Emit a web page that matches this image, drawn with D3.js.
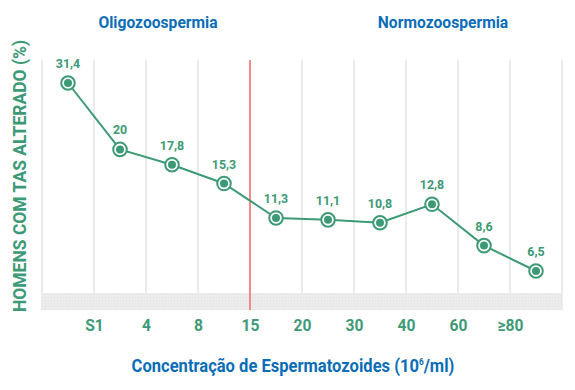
<!DOCTYPE html>
<html>
<head>
<meta charset="utf-8">
<script src="https://cdn.jsdelivr.net/npm/d3@7"></script>
<style>
  html, body { margin: 0; padding: 0; background: #ffffff; }
  svg { display: block; }
  text { font-family: "Roboto", "Liberation Sans", sans-serif; font-weight: bold; }
</style>
</head>
<body>
<svg id="chart" width="575" height="390"></svg>
<script>
// ---- data ----
const categories = ["<1", "1-4", "4-8", "8-15", "15-20", "20-30", "30-40", "40-60", "60-80", ">=80"];
const values = [31.4, 20, 17.8, 15.3, 11.3, 11.1, 10.8, 12.8, 8.6, 6.5];
const valueLabels = ["31,4", "20", "17,8", "15,3", "11,3", "11,1", "10,8", "12,8", "8,6", "6,5"];
const tickLabels = ["S1", "4", "8", "15", "20", "30", "40", "60", "≥80"];
const groupTitles = ["Oligozoospermia", "Normozoospermia"];
const thresholdIndex = 4; // boundary between groups (15 x10^6/ml)

// ---- styles ----
const green = "#3d9a76";
const blue = "#0b6db7";
const grid = "#ebebeb";
const red = "#f28a8a";
const narrow = 0.92; // horizontal squeeze to mimic a condensed face

const svg = d3.select("#chart");
const pLeft = 42, pRight = 562, pTop = 60, plotBottom = 293, bandBottom = 310;

const xb = d3.scaleLinear().domain([0, categories.length]).range([pLeft, pRight]);
const x = d3.scaleBand().domain(categories).range([pLeft, pRight]);
const y = d3.scalePow().exponent(0.4).domain(d3.extent(values)).range([271, 83]);

// pattern for bottom band
const defs = svg.append("defs");
const pat = defs.append("pattern").attr("id", "dots").attr("width", 3).attr("height", 3)
  .attr("patternUnits", "userSpaceOnUse");
pat.append("rect").attr("width", 3).attr("height", 3).attr("fill", "#ececec");
pat.append("rect").attr("width", 1).attr("height", 1).attr("fill", "#e3e3e3");

// gridlines
const bounds = d3.range(0, categories.length + 1);
svg.append("g").selectAll("line").data(bounds.filter(d => d !== thresholdIndex)).join("line")
  .attr("x1", d => xb(d)).attr("x2", d => xb(d))
  .attr("y1", pTop).attr("y2", plotBottom)
  .attr("stroke", grid).attr("stroke-width", 2);

// bottom band
svg.append("rect").attr("x", pLeft - 1).attr("y", plotBottom)
  .attr("width", pRight - pLeft + 2).attr("height", bandBottom - plotBottom)
  .attr("fill", "url(#dots)");

// threshold line
svg.append("line")
  .attr("x1", xb(thresholdIndex)).attr("x2", xb(thresholdIndex))
  .attr("y1", pTop).attr("y2", bandBottom)
  .attr("stroke", red).attr("stroke-width", 2);

// x axis tick labels at boundaries
const axis = d3.axisBottom(xb).tickValues(d3.range(1, categories.length))
  .tickFormat((d, i) => tickLabels[i]).tickSize(0).tickPadding(0);
const ag = svg.append("g").attr("transform", `translate(0,${bandBottom + 21})`).call(axis);
ag.attr("font-family", null).attr("font-size", null);
ag.select(".domain").remove();
ag.selectAll("text").attr("fill", green).style("font-size", "17px").attr("dy", 0)
  .attr("transform", `scale(${narrow},1)`);

// line
const line = d3.line().x((d, i) => x(categories[i]) + x.bandwidth() / 2).y(d => y(d));
svg.append("path").datum(values).attr("d", line)
  .attr("fill", "none").attr("stroke", green).attr("stroke-width", 2);

// points
const pts = svg.append("g").selectAll("g").data(values).join("g")
  .attr("transform", (d, i) => `translate(${x(categories[i]) + x.bandwidth() / 2},${y(d)})`);
pts.append("circle").attr("r", 6.8).attr("fill", "#fff").attr("stroke", green).attr("stroke-width", 2);
pts.append("circle").attr("r", 4).attr("fill", green);
pts.append("text").text((d, i) => valueLabels[i])
  .attr("text-anchor", "middle").attr("y", -15)
  .attr("transform", `scale(${narrow},1)`)
  .attr("fill", green).style("font-size", "13.5px");

// helper for squeezed text
function label(txt, tx, ty, rot, size, color) {
  const g = svg.append("g").attr("transform", `translate(${tx},${ty}) rotate(${rot}) scale(${narrow},1)`);
  return g.append("text").text(txt).attr("text-anchor", "middle")
    .attr("fill", color).style("font-size", size + "px");
}

// group titles
label(groupTitles[0], 158, 28, 0, 17, blue);
label(groupTitles[1], 443, 28, 0, 17, blue);

// y axis title
label("HOMENS COM TAS ALTERADO (%)", 26, 176, -90, 19, green);

// x axis title
const xt = label("", 293, 372, 0, 18, blue);
xt.append("tspan").text("Concentração de Espermatozoides (10");
xt.append("tspan").text("6").style("font-size", "9px").attr("dy", -7);
xt.append("tspan").text("/ml)").attr("dy", 7);
</script>
</body>
</html>
